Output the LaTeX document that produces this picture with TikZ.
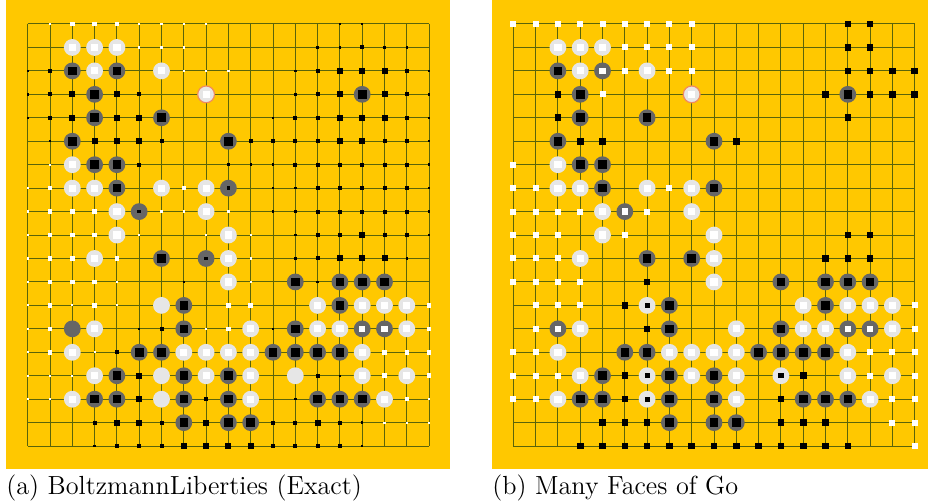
\documentclass[tikz,border=0pt]{standalone}
\usepackage{tikz}
\definecolor{board}{HTML}{FFC800}
\definecolor{gridc}{RGB}{90,100,10}
\definecolor{stoneb}{HTML}{666666}
\definecolor{stonew}{HTML}{E6E6E6}
\definecolor{lastmv}{HTML}{F08A60}

% stones shared by both boards
\def\blacklist{2/2,3/3,15/3,3/4,6/4,2/5,9/5,3/6,4/6,4/7,6/10,12/11,14/11,15/11,16/11,7/12,14/12,7/13,12/13,5/14,6/14,11/14,12/14,13/14,14/14,4/15,7/15,9/15,3/16,4/16,7/16,9/16,13/16,14/16,15/16,7/17,9/17,10/17}
\def\whitelist{2/1,3/1,4/1,3/2,6/2,2/6,2/7,3/7,6/7,8/7,4/8,8/8,4/9,9/9,3/10,9/10,9/11,13/12,15/12,16/12,17/12,3/13,10/13,13/13,14/13,17/13,2/14,7/14,8/14,9/14,10/14,15/14,3/15,8/15,10/15,15/15,17/15,2/16,10/16,16/16}

\begin{document}
\begin{tikzpicture}[x=0.5pt,y=-0.5pt,
gridline/.style={gridc,line width=0.5pt},
disc/.style={circle,inner sep=0pt,minimum size=8.4pt,fill=#1},
core/.style 2 args={path picture={\fill[#1] (path picture bounding box.center) ++(-#2/2,-#2/2) rectangle ++(#2,#2);}},
bstone/.style={disc=stoneb,core={black}{4.3pt}},
wstone/.style={disc=stonew,core={white}{3.6pt}},
dotstone/.style={disc=stoneb,core={black}{1.8pt}},
deadb/.style={disc=stoneb,core={white}{3.2pt}},
deadw/.style={disc=stonew,core={black}{2.6pt}},
lastmove/.style={disc=stonew,draw=lastmv,line width=0.6pt,core={white}{3.4pt}},
bpt/.style={rectangle,fill=black,inner sep=0pt,minimum size=#1},
wpt/.style={rectangle,fill=white,inner sep=0pt,minimum size=#1},
captext/.style={anchor=base west,inner sep=0pt,font=\fontsize{13.1}{16}\selectfont}]
\useasboundingbox (0,0) rectangle (928,502);
\fill[white] (0,0) rectangle (928,502);
\fill[board] (6,0) rectangle (450,469);
\fill[board] (492,0) rectangle (928,469);

% (a) BoltzmannLiberties
\begin{scope}[shift={(13.85pt,-12pt)},x=11.15pt,y=-11.725pt]
\foreach \i in {0,...,18} {
  \draw[gridline] (\i,0) -- (\i,18);
  \draw[gridline] (0,\i) -- (18,\i);
}
\foreach \c/\r in {14/0,15/0,13/1,14/1,16/1,17/1,0/2,12/2,18/2,0/3,12/3,18/3,0/4,11/4,18/4,1/5,18/5,9/6,10/6,11/6,18/6,11/7,12/7,18/7,11/8,12/8,18/8,12/9,18/9,12/10,17/10,7/11,13/11,5/13,11/13,14/15,12/16,15/17,3/18,15/18}
  \node[bpt=1.2pt] (a\c-\r) at (\c,\r) {};
\foreach \c/\r in {15/1,1/2,13/2,17/2,1/3,5/3,13/3,17/3,1/4,12/4,13/4,17/4,6/5,10/5,11/5,12/5,13/5,16/5,17/5,5/6,12/6,13/6,14/6,15/6,16/6,17/6,13/7,14/7,15/7,16/7,17/7,13/8,14/8,15/8,16/8,17/8,13/9,14/9,16/9,17/9,13/10,6/13,4/14,13/15,8/16,3/17,6/17,11/17,12/17,14/17,4/18,5/18,6/18,11/18,12/18,13/18,14/18}
  \node[bpt=2pt] (a\c-\r) at (\c,\r) {};
\foreach \c/\r in {14/2,15/2,16/2,2/3,4/3,14/3,16/3,2/4,4/4,5/4,14/4,15/4,16/4,3/5,4/5,5/5,14/5,15/5,15/9,14/10,15/10,16/10,5/15,5/16,4/17,5/17,8/17,13/17,7/18,8/18,9/18,10/18}
  \node[bpt=3pt] (a\c-\r) at (\c,\r) {};
\foreach \c/\r in {1/0,5/0,6/0,7/0,8/0,5/1,6/1,7/1,7/2,8/2,9/2,1/6,0/7,0/8,6/8,7/8,9/8,0/9,5/9,8/9,10/9,0/10,10/10,0/11,4/11,10/11,0/12,2/12,4/12,0/13,8/13,0/14,3/14,0/15,1/15,2/15,0/16,1/16,18/16,16/17,17/17,18/17}
  \node[wpt=1.1pt] (a\c-\r) at (\c,\r) {};
\foreach \c/\r in {2/0,3/0,4/0,1/7,7/7,1/8,2/8,3/8,1/9,2/9,3/9,1/10,2/10,4/10,1/11,2/11,3/11,1/12,3/12,9/12,10/12,18/12,1/13,9/13,18/13,1/14,16/14,17/14,18/14,16/15,18/15,17/16}
  \node[wpt=2.3pt] (a\c-\r) at (\c,\r) {};
\foreach \c/\r in \blacklist
  \node[bstone] (a\c-\r) at (\c,\r) {};
\node[bstone] (a4-2) at (4,2) {};
\foreach \c/\r in \whitelist
  \node[wstone] (a\c-\r) at (\c,\r) {};
\foreach \c/\r in {6/12,6/15,12/15,6/16}
  \node[disc=stonew] (a\c-\r) at (\c,\r) {};
\node[disc=stoneb] (a2-13) at (2,13) {};
\foreach \c/\r in {9/7,5/8,8/10}
  \node[dotstone] (a\c-\r) at (\c,\r) {};
\foreach \c/\r in {15/13,16/13}
  \node[deadb] (a\c-\r) at (\c,\r) {};
\node[lastmove] (a8-3) at (8,3) {};
\end{scope}

% (b) Many Faces of Go
\begin{scope}[shift={(256.65pt,-12pt)},x=11.15pt,y=-11.725pt]
\foreach \i in {0,...,18} {
  \draw[gridline] (\i,0) -- (\i,18);
  \draw[gridline] (0,\i) -- (18,\i);
}
\foreach \c/\r in {15/0,16/0,15/1,16/1,15/2,16/2,17/2,18/2,2/3,14/3,16/3,17/3,18/3,2/4,15/4,3/5,4/5,10/5,15/9,16/9,14/10,15/10,16/10,6/11,5/12,6/13,5/15,13/15,5/16,12/16,4/17,5/17,6/17,12/17,13/17,14/17,3/18,4/18,5/18,6/18,7/18,8/18,9/18,10/18,11/18,12/18,13/18,14/18,15/18}
  \node[bpt=3.3pt] (b\c-\r) at (\c,\r) {};
\foreach \c/\r in {0/0,1/0,2/0,3/0,4/0,5/0,6/0,7/0,8/0,5/1,6/1,7/1,8/1,5/2,7/2,8/2,4/3,0/6,0/7,1/7,7/7,0/8,1/8,2/8,3/8,6/8,0/9,1/9,2/9,5/9,0/10,1/10,2/10,0/11,1/11,2/11,3/11,1/12,2/12,3/12,18/12,1/13,18/13,0/14,1/14,16/14,17/14,18/14,0/15,1/15,2/15,16/15,18/15,0/16,1/16,17/16,18/16,17/17,18/17,18/18}
  \node[wpt=3pt] (b\c-\r) at (\c,\r) {};
\foreach \c/\r in \blacklist
  \node[bstone] (b\c-\r) at (\c,\r) {};
\foreach \c/\r in {9/7,8/10}
  \node[bstone] (b\c-\r) at (\c,\r) {};
\foreach \c/\r in \whitelist
  \node[wstone] (b\c-\r) at (\c,\r) {};
\foreach \c/\r in {6/12,6/15,12/15,6/16}
  \node[deadw] (b\c-\r) at (\c,\r) {};
\foreach \c/\r in {4/2,5/8,2/13,15/13,16/13}
  \node[deadb] (b\c-\r) at (\c,\r) {};
\node[lastmove] (b8-3) at (8,3) {};
\end{scope}

\node[captext] (capa) at (6,495) {(a) BoltzmannLiberties (Exact)};
\node[captext] (capb) at (492,495) {(b) Many Faces of Go};
\end{tikzpicture}
\end{document}
